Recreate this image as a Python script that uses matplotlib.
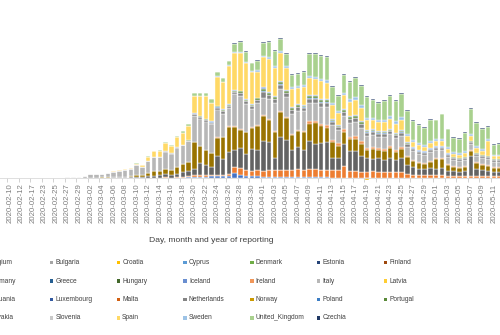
import matplotlib
matplotlib.use("Agg")
import matplotlib.pyplot as plt
import matplotlib.patches as mpatches
import numpy as np
import pandas as pd

# reporting days (irregular in February, daily afterwards)
dates = ["2020-02-08", "2020-02-09", "2020-02-10", "2020-02-11", "2020-02-12",
         "2020-02-13", "2020-02-17", "2020-02-22"]
dates += pd.date_range("2020-02-23", "2020-05-13").strftime("%Y-%m-%d").tolist()

countries = ["Austria", "Belgium", "Bulgaria", "Croatia", "Cyprus", "Denmark", "Estonia", "Finland",
             "France", "Germany", "Greece", "Hungary", "Iceland", "Ireland", "Italy", "Latvia",
             "Liechtenstein", "Lithuania", "Luxembourg", "Malta", "Netherlands", "Norway", "Poland", "Portugal",
             "Romania", "Slovakia", "Slovenia", "Spain", "Sweden", "United_Kingdom", "Czechia"]
colors = ["#4472C4", "#ED7D31", "#A5A5A5", "#FFC000", "#5B9BD5", "#70AD47", "#264478", "#9E480E",
          "#636363", "#997300", "#255E91", "#43682B", "#698ED0", "#F1975A", "#B7B7B7", "#FFCD33",
          "#7CAFDD", "#8CC168", "#335AA1", "#D26012", "#848484", "#CC9A00", "#3C7DC4", "#5A8A39",
          "#8FAADC", "#F4B183", "#C9C9C9", "#FFD966", "#9DC3E6", "#A9D18E", "#203864"]

# daily deaths per country
austria = [0] * 33 + [15,
    30, 30, 30, 45, 45, 45, 60, 140, 90, 60, 60, 60,
    30, 30, 21, 30, 30, 15, 15, 15, 15, 15, 15, 15,
    9, 9, 9, 9, 9, 9, 9, 9, 9, 9, 9, 9, 9,
    6, 6, 6, 6, 6, 6, 6, 6, 6, 6, 6, 6, 6, 6, 6, 6, 6, 6]
belgium = [0] * 27 + [9, 0, 15, 12, 24, 30, 30,
    45, 45, 45, 45, 30, 45, 60, 180, 210, 180, 150, 180,
    180, 210, 210, 210, 210, 210, 240, 210, 240, 240, 210, 210,
    240, 240, 360, 210, 210, 180, 180, 210, 180, 180, 180, 180, 180,
    120, 90, 90, 90, 90, 90, 90, 60, 60, 60, 60, 60, 60, 60, 60, 60, 60, 60]
# one correction reported as a negative count
croatia = [0] * 64 + [-60] + [0] * 24
france = [0] * 13 + [6, 9, 9, 9, 9, 9, 12, 15, 15, 18, 21,
    30, 24, 45, 60, 75, 90, 90, 105, 135, 150,
    200, 360, 300, 240, 570, 480, 650, 510, 600, 480, 650, 600,
    900, 840, 360, 990, 900, 600, 660, 600, 840, 750, 810, 840,
    360, 360, 660, 600, 600, 480, 420, 360, 420, 360, 420, 360, 420,
    270, 240, 180, 180, 210, 180, 210, 150, 150, 120, 150, 600, 210, 180, 150, 120, 120, 120]
germany = [0, 0, 0, 0, 10, 0, 10, 0, 0, 0, 0, 0, 0,
    0, 0, 0, 0, 0, 6, 9, 15, 15, 21, 24,
    60, 54, 105, 135, 120, 165, 150, 210, 240, 270,
    810, 510, 450, 420, 540, 650, 750, 690, 540, 650, 650, 720,
    750, 660, 780, 750, 660, 450, 480, 540, 540, 660, 540, 450,
    480, 360, 360, 360, 360, 360, 240, 300, 240, 270, 300, 240, 270,
    240, 180, 180, 150, 180, 300, 270, 180, 120, 120, 120, 150, 180, 150, 150, 120, 120, 90]
ireland = [0] * 34 + [0, 0, 0, 0, 30, 15, 30, 30, 30, 15, 30, 30,
    30, 30, 30, 45, 30, 45, 45, 45, 90, 60, 60, 90,
    60, 75, 90, 60, 90, 90, 60, 60, 60, 60, 45, 45, 60,
    30, 30, 30, 30, 30, 30, 30, 30, 30, 30, 30, 30, 30, 30, 30, 30, 30, 30]
italy = [0] * 8 + [3, 6, 9, 12, 15,
    24, 30, 51, 105, 96, 90, 120, 156, 180, 210, 219,
    285, 255, 360, 420, 420, 510, 480, 570, 570, 630,
    780, 840, 870, 870, 840, 690, 540, 960, 990, 840, 540, 660,
    510, 600, 840, 660, 600, 600, 570, 600, 540, 540, 510, 540,
    450, 390, 390, 420, 420, 390, 360, 360, 330, 360, 360, 360, 330,
    270, 270, 240, 240, 270, 240, 240, 210, 180, 180, 180, 180, 180, 180, 180, 150, 150, 120]
netherlands = [0] * 24 + [3, 3, 6, 8, 10, 15, 12, 15, 18, 22,
    45, 45, 45, 45, 60, 75, 75, 75, 90, 75, 75, 90,
    175, 120, 120, 120, 120, 120, 120, 105, 120, 120, 120, 120,
    90, 90, 105, 105, 105, 105, 90, 90, 90, 90, 90, 90, 90,
    75, 60, 60, 60, 60, 60, 60, 60, 45, 45, 45, 45, 45, 45, 45, 45, 45, 45]
poland = [0] * 34 + [5, 5, 5, 5, 8, 10, 10, 10, 12, 10, 10, 12,
    25, 15, 15, 15, 15, 15, 15, 12, 15, 15, 15, 15,
    12, 12, 15, 15, 15, 15, 12, 12, 12, 12, 12, 12, 12,
    10, 10, 10, 10, 10, 10, 10, 10, 10, 10, 10, 10, 10, 10, 10, 10, 10, 10]
portugal = [0] * 24 + [0, 0, 0, 0, 0, 3, 3, 6, 6, 9,
    18, 18, 18, 18, 24, 30, 30, 30, 36, 30, 30, 36,
    70, 48, 48, 48, 48, 48, 48, 42, 48, 48, 48, 48,
    36, 36, 42, 42, 42, 42, 36, 36, 36, 36, 36, 36, 36,
    30, 24, 24, 24, 24, 24, 24, 24, 18, 18, 18, 18, 18, 18, 18, 18, 18, 18]
romania = [0] * 34 + [14, 14, 14, 14, 18, 22, 22, 22, 27, 22, 22, 27,
    52, 36, 36, 36, 36, 36, 36, 32, 36, 36, 36, 36,
    27, 27, 32, 32, 32, 32, 27, 27, 27, 27, 27, 27, 27,
    22, 18, 18, 18, 18, 18, 18, 18, 14, 14, 14, 14, 14, 14, 14, 14, 14, 14]
spain = [0] * 13 + [0, 0, 0, 6, 6, 6, 9, 15, 21, 30, 36,
    51, 54, 114, 165, 180, 255, 225, 285, 360, 420,
    510, 600, 680, 540, 870, 810, 1140, 1110, 1140, 1080, 950, 780,
    900, 990, 840, 840, 660, 540, 480, 540, 510, 480, 540, 480,
    420, 360, 420, 420, 450, 390, 300, 270, 270, 270, 300, 270, 300,
    180, 150, 150, 120, 150, 150, 150, 120, 90, 90, 120, 150, 150, 120, 450, 90, 90, 90]
sweden = [0] * 34 + [0, 0, 0, 0, 30, 15, 15, 30, 30, 30, 30, 60,
    50, 60, 60, 60, 45, 60, 60, 60, 60, 60, 60, 90,
    60, 60, 60, 90, 90, 90, 60, 60, 60, 60, 75, 75, 90,
    60, 60, 60, 60, 60, 60, 60, 60, 60, 60, 60, 60, 60, 60, 60, 30, 30, 30]
united_kingdom = [0] * 24 + [9, 6, 15, 21, 24, 30, 30, 36, 45, 60,
    90, 90, 90, 120, 120, 120, 130, 240, 300, 300, 240, 270,
    390, 450, 450, 360, 360, 360, 360, 375, 660, 690, 690, 690,
    480, 450, 540, 510, 570, 570, 630, 540, 520, 570, 600, 600, 700,
    710, 570, 540, 520, 640, 560, 740, 530, 430, 430, 550, 760, 680, 590, 360, 300, 330, 240]
czechia = [0] * 41 + [30, 30, 25, 25, 25, 25, 30, 30, 30, 30, 30, 30,
    25, 25, 25, 30, 30, 30, 30, 25, 25, 25, 25, 30,
    30, 30, 30, 30, 30, 30, 25, 25, 25, 25, 25, 25,
    25, 25, 25, 25, 25, 25, 25, 25, 25, 25, 25, 25]

deaths = {
    "Austria": austria, "Belgium": belgium, "Croatia": croatia, "France": france,
    "Germany": germany, "Ireland": ireland, "Italy": italy, "Netherlands": netherlands,
    "Poland": poland, "Portugal": portugal, "Romania": romania, "Spain": spain,
    "Sweden": sweden, "United_Kingdom": united_kingdom, "Czechia": czechia,
}
for name, vals in deaths.items():
    assert len(vals) == len(dates), (name, len(vals), len(dates))

plt.rcParams["font.family"] = ["Liberation Sans", "DejaVu Sans"]

W, H = 500, 335
fig = plt.figure(figsize=(W / 100, H / 100), dpi=100)

# the plot runs past both edges of the canvas; geometry in pixels
px_first, px_step = 10.0, 5.76      # centre of 2020-02-10, spacing of days
i_first = dates.index("2020-02-10")
ax_l, ax_r, ax_t, ax_b, base = -5, 508, 5, 200, 178
per_px = 30.0

ax = fig.add_axes([ax_l / W, 1 - ax_b / H, (ax_r - ax_l) / W, (ax_b - ax_t) / H])
ax.set_xlim(i_first + (ax_l - px_first) / px_step, i_first + (ax_r - px_first) / px_step)
ax.set_ylim(-(ax_b - base) * per_px, (base - ax_t) * per_px)

x = np.arange(len(dates))
pos_bottom = np.zeros(len(dates))
neg_bottom = np.zeros(len(dates))
for name, col in zip(countries, colors):
    if name not in deaths:
        continue
    vals = np.array(deaths[name], dtype=float)
    bottom = np.where(vals >= 0, pos_bottom, neg_bottom)
    ax.bar(x, vals, bottom=bottom, width=0.78, color=col, edgecolor="white", linewidth=0.3)
    pos_bottom += np.clip(vals, 0, None)
    neg_bottom += np.clip(vals, None, 0)

for s in ["top", "right", "left"]:
    ax.spines[s].set_visible(False)
ax.spines["bottom"].set_position(("data", 0))
ax.spines["bottom"].set_color("#D9D9D9")
ax.spines["bottom"].set_linewidth(0.6)
ax.set_yticks([])
ax.set_xticks(x[::2])
ax.set_xticklabels(dates[::2], rotation=90, fontsize=5.6, color="#7F7F7F")
ax.set_xticks(x[::2] - 0.5, minor=True)
ax.tick_params(axis="x", which="major", length=0, pad=4)
ax.tick_params(axis="x", which="minor", length=3, color="#BFBFBF", width=0.5)
ax.patch.set_alpha(0)

fig.text(211 / W, 1 - 241 / H, "Day, month and year of reporting", ha="center", va="center",
         fontsize=6.1, color="#404040")

# legend laid out row by row, 8 entries per row
col0, col_step = -83.4, 66.7
row0, row_step = 262.7, 18.4
sw = 3.4
for k, (name, col) in enumerate(zip(countries, colors)):
    r, c = divmod(k, 8)
    sx = col0 + c * col_step
    sy = row0 + r * row_step
    fig.patches.append(mpatches.Rectangle((sx / W, 1 - (sy + sw / 2) / H), sw / W, sw / H,
                                          transform=fig.transFigure, facecolor=col, edgecolor="none"))
    fig.text((sx + 5.5) / W, 1 - sy / H, name, ha="left", va="center", fontsize=4.8, color="#404040")

fig.savefig("out.png", dpi=100)
